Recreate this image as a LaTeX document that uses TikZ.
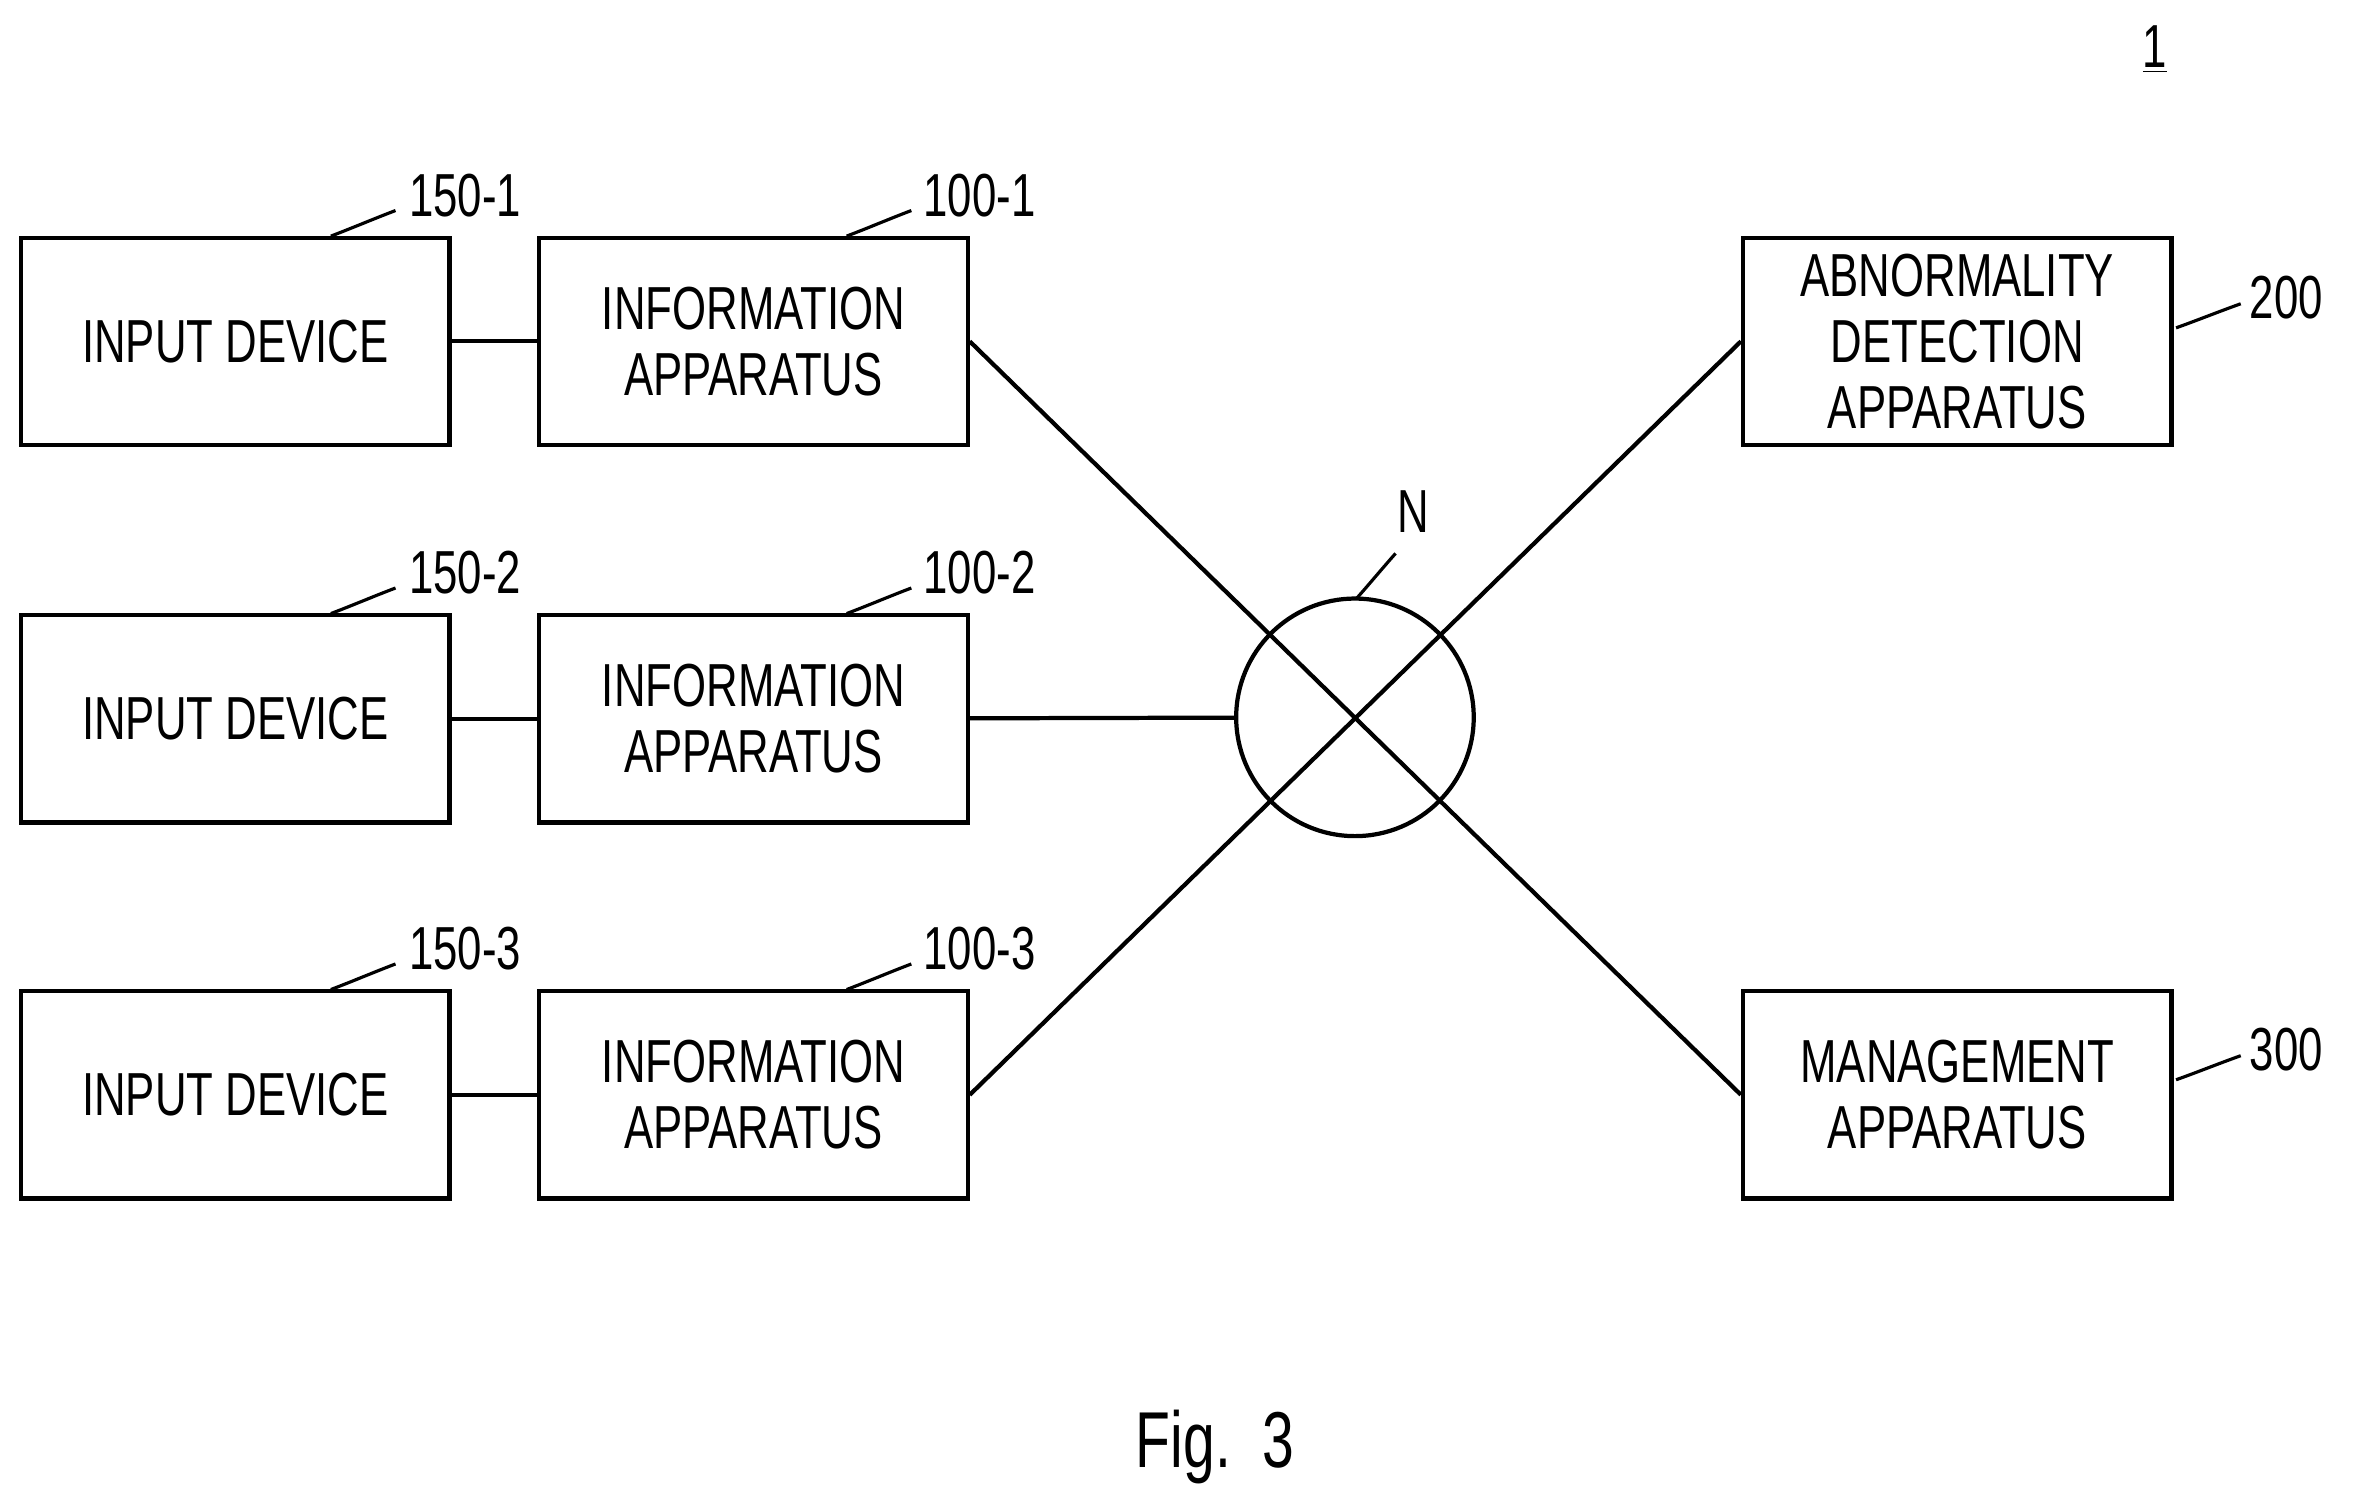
\documentclass[tikz,border=0pt]{standalone}
\usepackage{fontspec}
\setmainfont{Liberation Sans}[FakeStretch=0.72]
\usetikzlibrary{positioning}
\tikzset{
  blk/.style={draw, line width=1.6pt, minimum width=5.7cm, minimum height=2.76cm,
    align=center, font=\fontsize{23}{25}\selectfont, inner sep=0pt},
  lnk/.style={line width=1.6pt},
  tag/.style={font=\fontsize{23}{25}\selectfont, inner sep=1pt},
  wig/.style={line width=1.2pt}
}
\newcommand{\wiggle}[2]{\draw[wig] (#1) .. controls ($(#1)!0.3!(#2)+(0,0.25)$) and ($(#1)!0.7!(#2)+(0,-0.25)$) .. (#2);}
\usetikzlibrary{calc}
\begin{document}
\begin{tikzpicture}[x=0.02cm,y=-0.02cm]
\useasboundingbox (0,0) rectangle (1568,1002);
% input devices and information apparatuses
\foreach \i/\y in {1/227,2/478,3/728}{
  \node[blk] (in\i) at (156.5,\y) {INPUT DEVICE};
  \node[blk] (ia\i) at (501,\y) {INFORMATION\\APPARATUS};
  \draw[lnk] (in\i) -- (ia\i);
  \node[tag, anchor=west] (t150\i) at (270,\y-97) {150-\i};
  \node[tag, anchor=west] (t100\i) at (612,\y-97) {100-\i};
  \coordinate (a\i) at (220,\y-70);
  \coordinate (b\i) at (263,\y-87);
  \coordinate (c\i) at (563,\y-70);
  \coordinate (d\i) at (606,\y-87);
  \wiggle{a\i}{b\i}
  \wiggle{c\i}{d\i}
}
\node[blk] (ad) at (1301.5,227) {ABNORMALITY\\DETECTION\\APPARATUS};
\node[blk] (mg) at (1301.5,728) {MANAGEMENT\\APPARATUS};
\node[draw, circle, line width=1.6pt, minimum size=3.16cm, inner sep=0pt] (net) at (901,477) {};
\node[tag] (tn) at (940,340) {N};
\coordinate (n1) at (902,398);
\coordinate (n2) at (928,368);
\wiggle{n1}{n2}
\draw[lnk] (ia1.east) -- (mg.west);
\draw[lnk] (ia3.east) -- (ad.west);
\draw[lnk] (ia2) -- (net);
\node[tag, anchor=west] (t200) at (1494,198) {200};
\node[tag, anchor=west] (t300) at (1494,698) {300};
\coordinate (e1) at (1447,218);
\coordinate (e2) at (1490,202);
\coordinate (f1) at (1447,718);
\coordinate (f2) at (1490,702);
\wiggle{e1}{e2}
\wiggle{f1}{f2}
\node[tag] (sys) at (1433,33) {\underline{1}};
\node[font=\fontsize{30}{32}\selectfont] (fig) at (808,962) {Fig.~~3};
\end{tikzpicture}
\end{document}
